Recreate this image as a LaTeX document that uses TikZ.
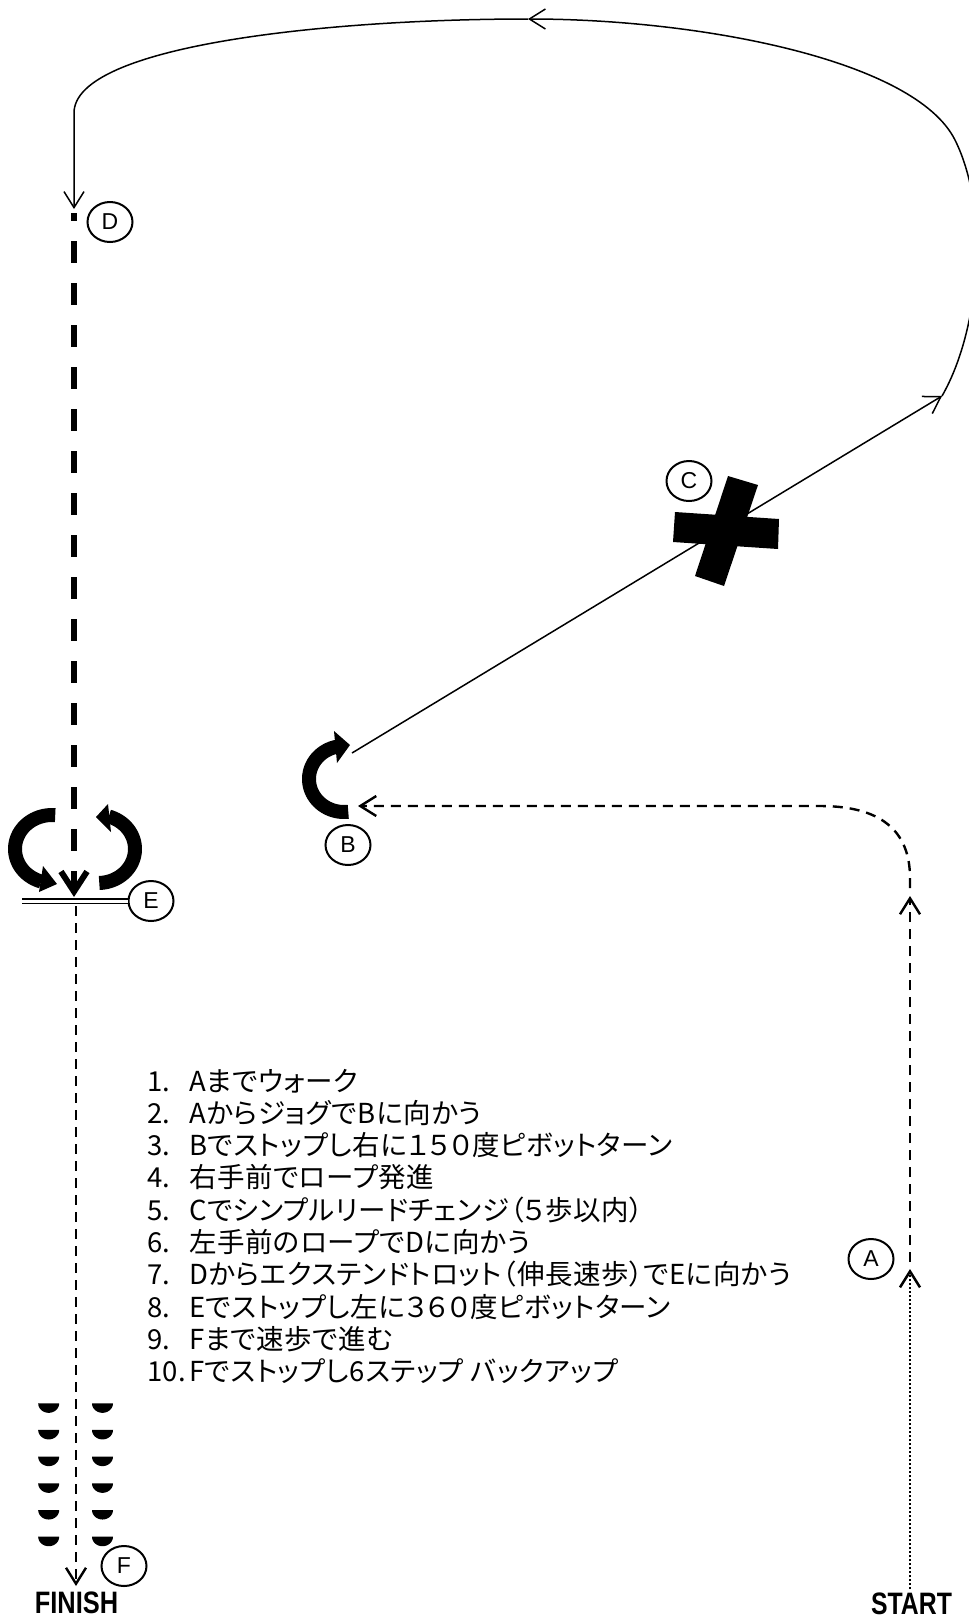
\documentclass[tikz,border=0pt]{standalone}
\usepackage{fontspec}
\setmainfont{Liberation Sans}
\newfontfamily\jp{Noto Sans CJK JP}[RawFeature=+palt,LetterSpace=2]
\newfontfamily\cond{Liberation Sans}
\usetikzlibrary{arrows.meta,shapes.geometric}
\begin{document}
\begin{tikzpicture}[x=1pt,y=-1pt,
  lbl/.style={draw,line width=2pt,ellipse,minimum width=45pt,minimum height=40pt,inner sep=0pt,font=\fontsize{23}{23}\selectfont},
  tipv/.style={-{Straight Barb[length=16pt,width=20pt]}},
  finedash/.style={line width=2.4pt,dash pattern=on 10pt off 7pt},
  dotline/.style={line width=2.5pt,dash pattern=on 2.2pt off 1.8pt},
  thinline/.style={line width=1.5pt},
  thickarc/.style={line width=14pt,line join=round},
  listtxt/.style={anchor=base west,inner sep=0pt,font=\jp\fontsize{27.5}{27.5}\selectfont},
  bigword/.style={font=\cond\bfseries\fontsize{31}{31}\selectfont,inner sep=0pt}]
\path[use as bounding box] (0,0) rectangle (969,1620);
\clip (0,0) rectangle (969,1620);
\fill[white] (0,0) rectangle (969,1620);

% named points
\coordinate (startpt) at (910,1589);
\coordinate (atip) at (910,1269);
\coordinate (adash) at (910,1262);
\coordinate (atop) at (910,896);
\coordinate (bstart) at (910,888);
\coordinate (btip) at (358,806);
\coordinate (cfrom) at (352,753);
\coordinate (cto) at (942,396);
\coordinate (topmid) at (528,19);
\coordinate (dtip) at (74,209);
\coordinate (dstart) at (74,213);
\coordinate (etip) at (74,897);
\coordinate (dl) at (22,901);
\coordinate (etop) at (76,906);
\coordinate (ftip) at (76,1586);

% labels
\node[lbl] (A) at (871,1259) {A};
\node[lbl] (B) at (348,845) {B};
\node[lbl] (C) at (689,481) {C};
\node[lbl] (D) at (110,222) {D};
\node[lbl] (E) at (151,901) {E};
\node[lbl] (F) at (124,1566) {F};

% START / FINISH
\node[bigword] (start) at (911.5,1604) {\scalebox{0.8}[1]{START}};
\node[bigword] (finish) at (76.5,1602.5) {\scalebox{0.82}[1]{FINISH}};

% start -> A (dotted)
\draw[dotline,tipv] (startpt) -- (atip);
% A -> B (dashed)
\draw[finedash,tipv] (adash) -- (atop);
\draw[finedash,tipv] (bstart) -- (910,878) .. controls (910,830) and (880,806) .. (820,806) -- (btip);

% pivot at B
\draw[thickarc] plot[domain=83:258,samples=40] ({344+35*cos(\x)},{779+33*sin(\x)});
\fill (334,731) -- (350,745) -- (337,763) -- cycle;

% B -> C -> loop
\draw[thinline,tipv] (cfrom) -- (cto);
\draw[thinline,tipv] (cto) .. controls (980,330) and (990,210) .. (955,140)
   .. controls (915,60) and (700,19) .. (topmid);
\draw[thinline,tipv] (topmid) .. controls (330,19) and (74,45) .. (74,113) -- (dtip);

% cross at C
\fill (675,512) -- (779,519) -- (778,549) -- (673,542) -- cycle;
\fill (728,476) -- (758,485) -- (724,586) -- (695,576) -- cycle;

% D -> E thick dashed
\draw[line width=6pt,dash pattern=on 22pt off 20pt,dash phase=14pt,-{Straight Barb[length=20pt,width=26pt]}] (dstart) -- (etip);

% stop line at E
\draw[double distance=3pt,line width=1.2pt] (dl) -- (E.west);

% 360 pivot at E
\draw[thickarc] plot[domain=107:275,samples=40] ({52+37*cos(\x)},{849+34*sin(\x)});
\fill (43,866) -- (57,884) -- (39,892) -- cycle;
\draw[thickarc] plot[domain=-73:88,samples=40] ({98+37*cos(\x)},{849+34*sin(\x)});
\fill (108,804) -- (96,817) -- (111,832) -- cycle;

% E -> F
\draw[finedash,tipv] (etop) -- (ftip);

% back-up footprints
\foreach \yy in {1403.3,1429.9,1456.6,1483.3,1510,1536.7}{
  \fill plot[domain=0:180,samples=25] ({48.7+10.5*cos(\x)},{\yy+9.5*sin(\x)}) -- cycle;
  \fill plot[domain=0:180,samples=25] ({102.5+10.5*cos(\x)},{\yy+9.5*sin(\x)}) -- cycle;
}

% instructions
\node[listtxt] (n1) at (147,1091) {1.};
\node[listtxt] (t1) at (189,1091) {Aまでウォーク};
\node[listtxt] (n2) at (147,1123.3) {2.};
\node[listtxt] (t2) at (189,1123.3) {AからジョグでBに向かう};
\node[listtxt] (n3) at (147,1155.6) {3.};
\node[listtxt] (t3) at (189,1155.6) {Bでストップし右に１５０度ピボットターン};
\node[listtxt] (n4) at (147,1187.9) {4.};
\node[listtxt] (t4) at (189,1187.9) {右手前でロープ発進};
\node[listtxt] (n5) at (147,1220.2) {5.};
\node[listtxt] (t5) at (189,1220.2) {Cでシンプルリードチェンジ（５歩以内）};
\node[listtxt] (n6) at (147,1252.5) {6.};
\node[listtxt] (t6) at (189,1252.5) {左手前のロープでDに向かう};
\node[listtxt] (n7) at (147,1284.8) {7.};
\node[listtxt] (t7) at (189,1284.8) {Dからエクステンドトロット（伸長速歩）でEに向かう};
\node[listtxt] (n8) at (147,1317.1) {8.};
\node[listtxt] (t8) at (189,1317.1) {Eでストップし左に３６０度ピボットターン};
\node[listtxt] (n9) at (147,1349.4) {9.};
\node[listtxt] (t9) at (189,1349.4) {Fまで速歩で進む};
\node[listtxt] (n10) at (147,1381.7) {10.};
\node[listtxt] (t10) at (189,1381.7) {Fでストップし6ステップ バックアップ};
\end{tikzpicture}
\end{document}
